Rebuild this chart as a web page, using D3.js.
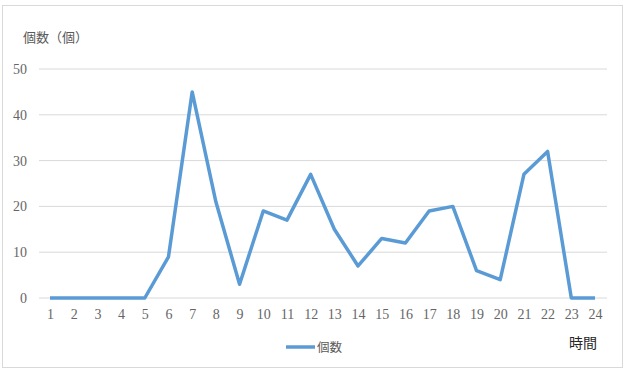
<!DOCTYPE html>
<html><head><meta charset="utf-8">
<script src="https://cdn.jsdelivr.net/npm/d3@7"></script>
<style>body{margin:0;background:#fff}</style>
</head><body>
<script>
const hours = [1,2,3,4,5,6,7,8,9,10,11,12,13,14,15,16,17,18,19,20,21,22,23,24];
const counts = [0,0,0,0,0,9,45,21,3,19,17,27,15,7,13,12,19,20,6,4,27,32,0,0];
const yTicks = [0,10,20,30,40,50];
const seriesName = "個数";
const yTitle = "個数（個）";
const xTitle = "時間";

const W = 627, H = 373;
const svg = d3.select("body").append("svg").attr("width", W).attr("height", H);
svg.append("rect").attr("x", 2.5).attr("y", 5.5).attr("width", 620).attr("height", 362)
  .attr("fill", "#fff").attr("stroke", "#d9d9d9");

const plotL = 39, plotR = 607;
const x = d3.scalePoint().domain(hours).range([50, 595]);
const y = d3.scaleLinear().domain([0, 50]).range([298, 69]);

const serif = "'Liberation Serif','DejaVu Serif',serif";
const cjk = "'Noto Sans CJK JP',sans-serif";

// gridlines
svg.append("g").selectAll("line").data(yTicks).join("line")
  .attr("x1", plotL).attr("x2", plotR)
  .attr("y1", d => y(d)).attr("y2", d => y(d))
  .attr("stroke", "#d9d9d9").attr("stroke-width", 1);

// y labels
const yAxis = d3.axisLeft(y).tickValues(yTicks).tickSize(0).tickPadding(0);
const gy = svg.append("g").attr("transform", "translate(27,0)").call(yAxis)
  .attr("font-family", serif).attr("font-size", 14);
gy.select(".domain").remove();
gy.selectAll("text").style("font-family", serif).attr("font-size", 14).attr("fill", "#666")
  .attr("text-anchor", "end").attr("dy", "0.32em");

// x labels
const xAxis = d3.axisBottom(x).tickSize(0).tickPadding(0);
const gx = svg.append("g").attr("transform", "translate(0,309)").call(xAxis)
  .attr("font-family", serif).attr("font-size", 14);
gx.select(".domain").remove();
gx.selectAll("text").style("font-family", serif).attr("font-size", 14).attr("fill", "#666").attr("dy", "0.71em");

// line
const line = d3.line().x((d, i) => x(hours[i])).y(d => y(d));
svg.append("path").datum(counts).attr("d", line).attr("fill", "none")
  .attr("stroke", "#5B9BD5").attr("stroke-width", 3.5).attr("stroke-linejoin", "round").attr("stroke-linecap", "butt");

// titles
svg.append("text").attr("x", 23).attr("y", 42).text(yTitle)
  .attr("font-family", cjk).attr("font-size", 13).attr("fill", "#595959");
svg.append("text").attr("x", 597).attr("y", 348).attr("text-anchor", "end").text(xTitle)
  .attr("font-family", cjk).attr("font-size", 14).attr("fill", "#262626");

// legend
svg.append("line").attr("x1", 286).attr("x2", 315).attr("y1", 347).attr("y2", 347)
  .attr("stroke", "#5B9BD5").attr("stroke-width", 3.5);
svg.append("text").attr("x", 317).attr("y", 352).text(seriesName)
  .attr("font-family", cjk).attr("font-size", 12.5).attr("fill", "#595959");
</script>
</body></html>
